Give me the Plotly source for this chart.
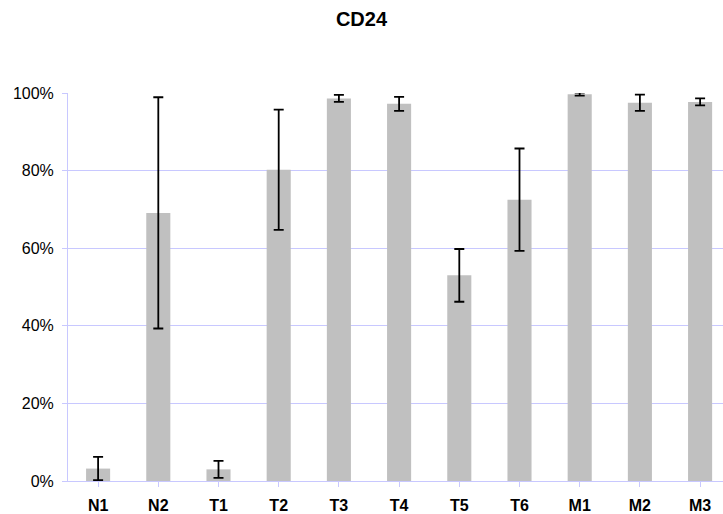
import plotly.graph_objects as go

# CD24 positive fraction per sample, with error (± fraction)
samples = ["N1", "N2", "T1", "T2", "T3", "T4", "T5", "T6", "M1", "M2", "M3"]
values = [0.032, 0.691, 0.030, 0.802, 0.986, 0.972, 0.530, 0.725, 0.997, 0.975, 0.977]
errors = [0.030, 0.298, 0.022, 0.155, 0.009, 0.018, 0.068, 0.132, 0.004, 0.021, 0.009]
y_ticks = [0, 0.2, 0.4, 0.6, 0.8, 1.0]
y_tick_text = ["0%", "20%", "40%", "60%", "80%", "100%"]

grid_col = "#c8c8ff"
font_family = "Liberation Sans, Arial, Helvetica, sans-serif"

fig = go.Figure(
    go.Bar(
        x=list(range(len(samples))),
        y=values,
        width=0.4,
        marker=dict(color="#c0c0c0", line=dict(width=0)),
        error_y=dict(type="data", array=errors, visible=True,
                     color="black", thickness=1.8, width=5),
    )
)

fig.update_layout(
    width=723,
    height=514,
    margin=dict(l=68, r=0, t=93, b=30),
    paper_bgcolor="white",
    plot_bgcolor="white",
    showlegend=False,
    title=dict(text="<b>CD24</b>", x=0.5, xanchor="center", y=1 - 18.5 / 514,
               yanchor="middle", font=dict(family=font_family, size=20, color="black")),
    font=dict(family=font_family, color="black"),
)

fig.update_xaxes(
    tickmode="array",
    tickvals=list(range(len(samples))),
    ticktext=[f"<b>{s}</b>" for s in samples],
    tickfont=dict(size=16, family=font_family, color="black"),
    range=[-0.5, -0.5 + 655 / 60.2],
    showgrid=False,
    showline=True,
    linecolor=grid_col,
    linewidth=1,
    ticks="outside",
    tickson="boundaries",
    ticklen=5,
    tickcolor=grid_col,
    ticklabelstandoff=5,
    zeroline=False,
)

fig.update_yaxes(
    range=[0, 1],
    tickvals=y_ticks,
    ticktext=y_tick_text,
    tickfont=dict(size=16, family=font_family, color="black"),
    showgrid=True,
    gridcolor=grid_col,
    gridwidth=1,
    showline=True,
    linecolor=grid_col,
    linewidth=1,
    ticks="outside",
    ticklen=5,
    tickcolor=grid_col,
    ticklabelstandoff=5,
    zeroline=False,
)

fig.write_html("out.html")
